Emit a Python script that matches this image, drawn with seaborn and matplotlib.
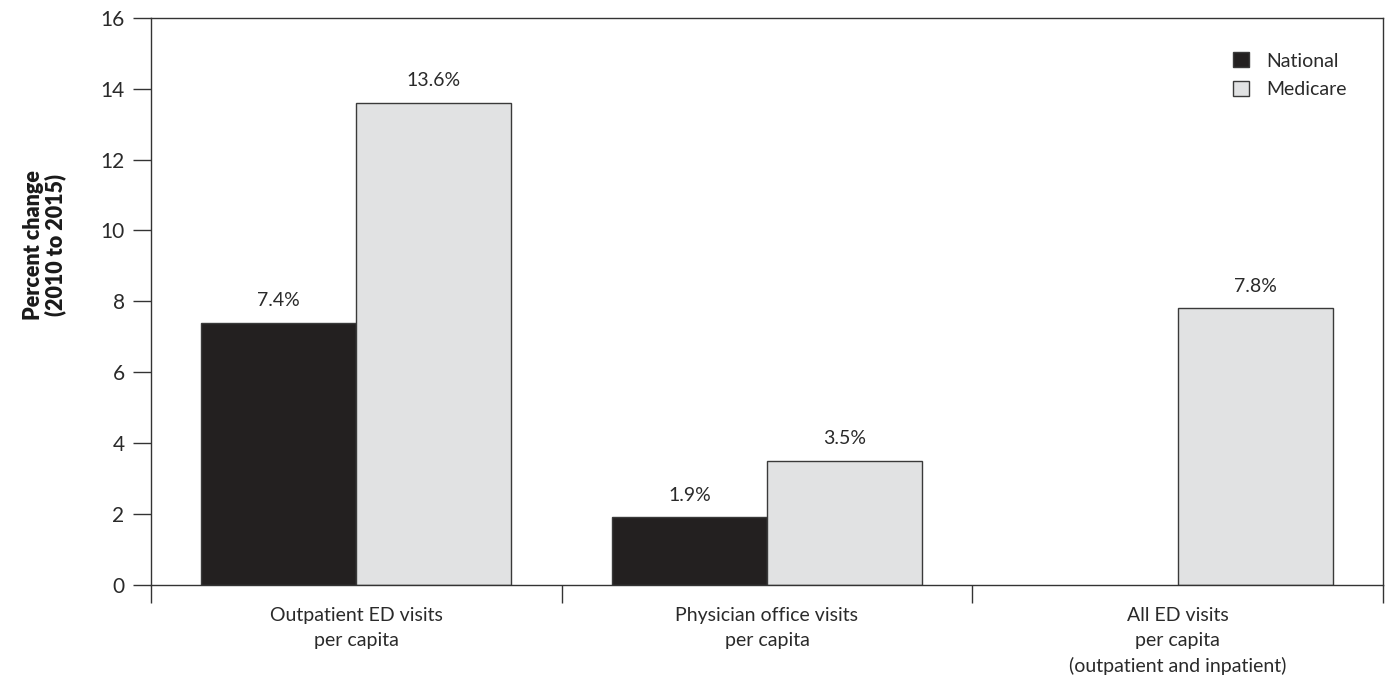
import matplotlib
matplotlib.use("Agg")
import matplotlib.pyplot as plt
import pandas as pd
import seaborn as sns
import numpy as np

# values
categories = ["Outpatient ED visits\nper capita",
              "Physician office visits\nper capita",
              "All ED visits\nper capita\n(outpatient and inpatient)"]
national = [7.4, 1.9, np.nan]   # no national figure for all ED visits
medicare = [13.6, 3.5, 7.8]
series = ["National", "Medicare"]
colors = ["#231f20", "#e1e2e3"]

df = pd.DataFrame({
    "category": categories * 2,
    "group": ["National"] * 3 + ["Medicare"] * 3,
    "value": national + medicare,
})

sns.set_style("white")
plt.rcParams["font.family"] = ["Lato", "DejaVu Sans"]
txt = "#2a2a2a"

fig = plt.figure(figsize=(13.85, 6.88), dpi=100)
ax = fig.add_axes([0.109, 0.150, 0.8895, 0.824])

sns.barplot(data=df, x="category", y="value", hue="group", hue_order=series,
            palette=colors, width=0.755, edgecolor="#3a3a3a", linewidth=1.0,
            ax=ax, legend=True)

# value labels above bars
for cont in ax.containers:
    for bar in cont:
        h = bar.get_height()
        if np.isnan(h):
            continue
        ax.annotate(f"{h:.1f}%", (bar.get_x() + bar.get_width() / 2, h),
                    xytext=(0, 10), textcoords="offset points",
                    ha="center", va="bottom", fontsize=14, color=txt)

ax.set_ylim(0, 16)
ax.set_yticks(range(0, 17, 2))
ax.set_xlim(-0.5, 2.5)

# category boundaries as ticks, labels in the middle
ax.set_xticks([-0.5, 0.5, 1.5, 2.5])
ax.set_xticklabels([])
ax.set_xticks([0, 1, 2], minor=True)
ax.set_xticklabels(categories, minor=True, fontsize=14, color=txt,
                   linespacing=1.55)
ax.tick_params(axis="x", which="minor", length=0, pad=16)
ax.tick_params(axis="x", which="major", length=13, width=1, color="#333333",
               direction="out", bottom=True)
ax.tick_params(axis="y", length=13, width=1, color="#333333", direction="out",
               left=True, labelsize=15, labelcolor=txt, pad=6)

for s in ax.spines.values():
    s.set_color("#333333")
    s.set_linewidth(1.0)

ax.set_xlabel("")
ax.set_ylabel("Percent change\n(2010 to 2015)", fontsize=15.5, fontweight="heavy",
              color="#1a1a1a", linespacing=1.0)
ax.yaxis.set_label_coords(-0.069, 0.6)

leg = ax.legend(loc="upper right", frameon=False, fontsize=14,
                handlelength=0.8, handleheight=0.8, handletextpad=0.9,
                labelspacing=0.6, bbox_to_anchor=(0.985, 0.97))
for t in leg.get_texts():
    t.set_color(txt)

fig.savefig("out.png", dpi=100)
